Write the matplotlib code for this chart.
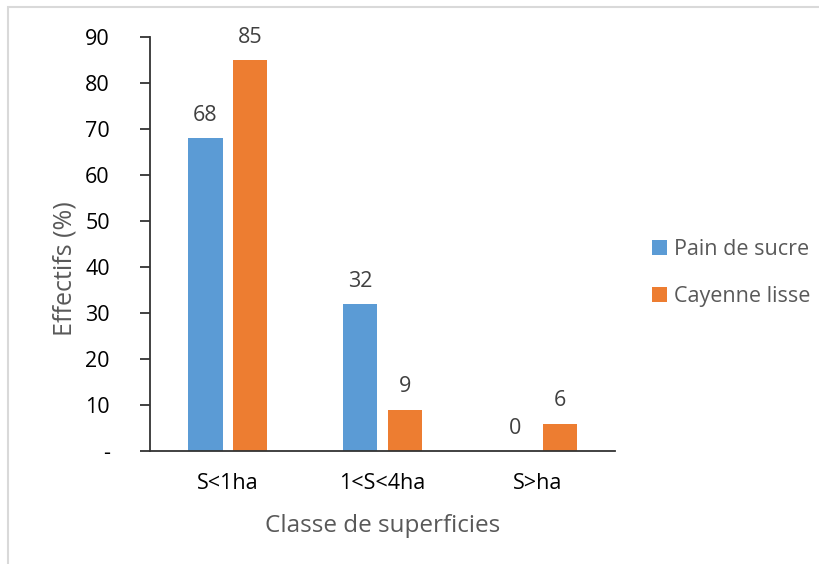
import numpy as np
import matplotlib
matplotlib.use("Agg")
import matplotlib.pyplot as plt
from matplotlib.patches import Rectangle

plt.rcParams['font.family'] = ['Open Sans', 'DejaVu Sans']

categories = ['S<1ha', '1<S<4ha', 'S>ha']
pain_de_sucre = [68, 32, 0]
cayenne_lisse = [85, 9, 6]
series_names = ['Pain de sucre', 'Cayenne lisse']
y_ticks = [0, 10, 20, 30, 40, 50, 60, 70, 80, 90]
y_tick_labels = ['-', '10', '20', '30', '40', '50', '60', '70', '80', '90']

blue = '#5B9BD5'
orange = '#ED7D31'

fig = plt.figure(figsize=(8.2, 5.64), dpi=100)
ax = fig.add_axes([0.183, 0.2, 0.567, 0.734])

x = np.arange(len(categories))
w = 0.225
b1 = ax.bar(x - 0.145, pain_de_sucre, w, color=blue, label=series_names[0])
b2 = ax.bar(x + 0.145, cayenne_lisse, w, color=orange, label=series_names[1])

for bars, vals in [(b1, pain_de_sucre), (b2, cayenne_lisse)]:
    for r, v in zip(bars, vals):
        ax.annotate(str(v), (r.get_x() + r.get_width() / 2, v),
                    xytext=(0, 9), textcoords='offset points',
                    ha='center', va='bottom', fontsize=15.5, color='#404040')

ax.set_xlim(-0.5, 2.5)
ax.set_ylim(0, 90)
ax.set_yticks(y_ticks)
ax.set_yticklabels(y_tick_labels, fontsize=15.5, color='black')
ax.set_xticks(x)
ax.set_xticklabels(categories, fontsize=15.5, color='black')
ax.tick_params(axis='x', length=0, pad=16)
ax.tick_params(axis='y', length=7, width=1.3, color='#333333', pad=22)

for s in ['top', 'right']:
    ax.spines[s].set_visible(False)
for s in ['left', 'bottom']:
    ax.spines[s].set_linewidth(1.3)
    ax.spines[s].set_color('#333333')

ax.set_ylabel('Effectifs (%)', fontsize=18, color='#595959')
ax.yaxis.set_label_coords(-0.155, 0.44)
ax.set_xlabel('Classe de superficies', fontsize=17.5, color='#595959', labelpad=14)

ax.legend(loc='center left', bbox_to_anchor=(1.06, 0.43), frameon=False,
          fontsize=15.5, labelcolor='#595959', handlelength=0.7, handleheight=0.7,
          handletextpad=0.35, labelspacing=1.2, borderaxespad=0.0)

# light gray chart border
fig.patches.append(Rectangle((8 / 820, -0.1), 1.2, 1.1 - 7 / 564, transform=fig.transFigure,
                             fill=False, edgecolor='#D9D9D9', linewidth=1.5))

fig.savefig('out.png', dpi=100)
